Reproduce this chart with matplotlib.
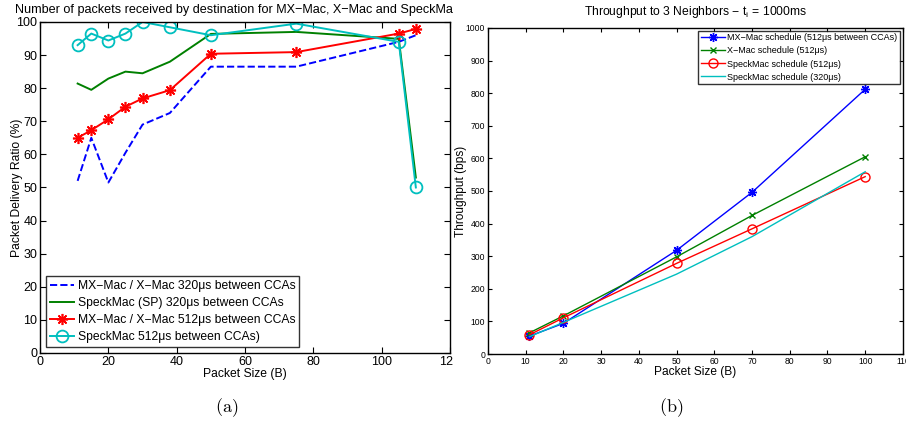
import matplotlib
matplotlib.use("Agg")
import matplotlib.pyplot as plt
from matplotlib.transforms import Bbox, TransformedBbox

plt.rcParams['font.family'] = ['Liberation Sans', 'DejaVu Sans']
plt.rcParams['mathtext.fontset'] = 'cm'

# packet delivery ratio per packet size
pdr_sizes = [11, 15, 20, 25, 30, 38, 50, 75, 105, 110]
pdr_mx_320 = [52, 65, 51.5, 60.5, 69, 72.5, 86.5, 86.5, 94, 96]
pdr_sp_320 = [81.4, 79.5, 82.9, 85.0, 84.5, 88.0, 96.4, 97.0, 94.9, 53]
pdr_mx_512 = [65, 67.3, 70.6, 74.4, 76.9, 79.4, 90.4, 90.9, 96.5, 97.9]
pdr_sp_512 = [93.0, 96.5, 94.4, 96.5, 100, 98.4, 96.0, 99.5, 94.0, 50]

# throughput to 3 neighbours
tp_sizes = [11, 20, 50, 70, 100]
tp_mx_512 = [55, 94, 318, 496, 812]
tp_x_512 = [65, 117, 298, 425, 605]
tp_sp_512 = [59, 111, 278, 384, 544]
tp_sp_320 = [53, 97, 245, 360, 559]

BLUE = (0, 0, 1)
GREEN = (0, 0.5, 0)
RED = (1, 0, 0)
CYAN = (0, 0.75, 0.75)
STAR = (8, 2, 0)  # asterisk made of four strokes

fig = plt.figure(figsize=(9.06, 4.26), dpi=100)
ax1 = fig.add_axes([0.0442, 0.1714, 0.4525, 0.777])
ax2 = fig.add_axes([0.5386, 0.169, 0.458, 0.7653])

# (a) delivery ratio
ax1.plot(pdr_sizes, pdr_mx_320, '--', color=BLUE, lw=1.4,
         label='MX\u2212Mac / X\u2212Mac 320\u03bcs between CCAs')
ax1.plot(pdr_sizes, pdr_sp_320, '-', color=GREEN, lw=1.4,
         label='SpeckMac (SP) 320\u03bcs between CCAs')
ax1.plot(pdr_sizes, pdr_mx_512, '-', color=RED, lw=1.4, marker=STAR,
         ms=8, mew=1.2, label='MX\u2212Mac / X\u2212Mac 512\u03bcs between CCAs')
ax1.plot(pdr_sizes, pdr_sp_512, '-', color=CYAN, lw=1.4, marker='o',
         ms=8.5, mfc='none', mew=1.3, label='SpeckMac 512\u03bcs between CCAs)')
ax1.set_xlim(0, 120)
ax1.set_ylim(0, 100)
ax1.set_xticks(range(0, 121, 20))
ax1.set_yticks(range(0, 101, 10))
ax1.tick_params(direction='in', top=True, right=True, length=4,
                labelsize=9, pad=2, width=0.8)
ax1.set_xlabel('Packet Size (B)', fontsize=8.7, labelpad=0)
ax1.set_ylabel('Packet Delivery Ratio (%)', fontsize=8.7, labelpad=-5)
t1 = ax1.set_title('Number of packets received by destination for '
                   'MX\u2212Mac, X\u2212Mac and SpeckMac', fontsize=9.1,
                   pad=6.5, loc='left')
t1.set_x(-0.061)
leg1 = ax1.legend(loc='lower left', fontsize=8.7, frameon=True, fancybox=False,
                  edgecolor='black', handlelength=2.0, handletextpad=0.3,
                  borderpad=0.3, labelspacing=0.42, borderaxespad=0.5)
leg1.get_frame().set_linewidth(1.0)

# keep the left panel's text from running into the right one
clip = TransformedBbox(Bbox([[0, 0], [453 / 906, 1]]), fig.transFigure)
t1.set_clip_on(True)
t1.set_clip_box(clip)
for lab in ax1.get_xticklabels():
    lab.set_clip_on(True)
    lab.set_clip_box(clip)

# (b) throughput
ax2.plot(tp_sizes, tp_mx_512, '-', color=BLUE, lw=1.0, marker=STAR, ms=6.5,
         mew=1.0, label='MX\u2212Mac schedule (512\u03bcs between CCAs)')
ax2.plot(tp_sizes, tp_x_512, '-', color=GREEN, lw=1.0, marker='x', ms=4.5,
         mew=1.0, label='X\u2212Mac schedule (512\u03bcs)')
ax2.plot(tp_sizes, tp_sp_512, '-', color=RED, lw=1.0, marker='o', ms=6.5,
         mfc='none', mew=1.0, label='SpeckMac schedule (512\u03bcs)')
ax2.plot(tp_sizes, tp_sp_320, '-', color=CYAN, lw=1.0,
         label='SpeckMac schedule (320\u03bcs)')
ax2.set_xlim(0, 110)
ax2.set_ylim(0, 1000)
ax2.set_xticks(range(0, 111, 10))
ax2.set_yticks(range(0, 1001, 100))
ax2.tick_params(direction='in', top=True, right=True, length=3,
                labelsize=6.2, pad=2, width=0.8)
ax2.set_xlabel('Packet Size (B)', fontsize=8.6, labelpad=0)
ax2.set_ylabel('Throughput (bps)', fontsize=8.6, labelpad=-1)
ax2.set_title('Throughput to 3 Neighbors \u2212 t$_{\\mathregular{i}}$ = 1000ms',
              fontsize=8.7, pad=9)
leg2 = ax2.legend(loc='upper right', fontsize=6.5, frameon=True, fancybox=False,
                  edgecolor='black', handlelength=2.6, handletextpad=0.3,
                  borderpad=0.3, labelspacing=0.45, borderaxespad=0.3)
leg2.get_frame().set_linewidth(1.0)

for ax in (ax1, ax2):
    for s in ax.spines.values():
        s.set_linewidth(1.0)

fig.text(227 / 906, 1 - 408 / 426, r'$\mathrm{(a)}$', fontsize=13,
         ha='center', va='center')
fig.text(671 / 906, 1 - 408 / 426, r'$\mathrm{(b)}$', fontsize=13,
         ha='center', va='center')

fig.savefig('out.png', dpi=100)
